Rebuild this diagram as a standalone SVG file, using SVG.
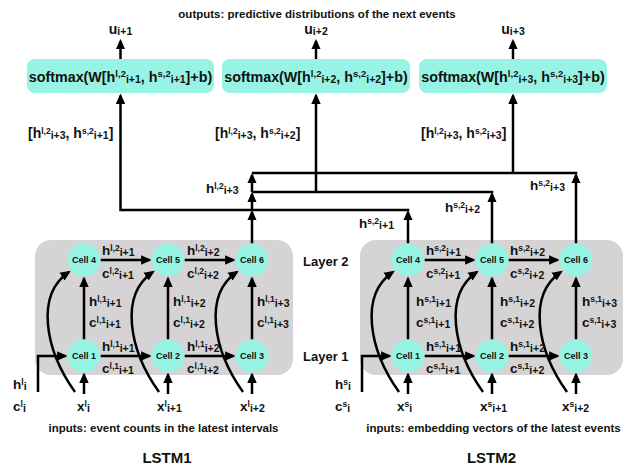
<svg xmlns="http://www.w3.org/2000/svg" width="639" height="473" viewBox="0 0 639 473">
<style>
.t{font-family:"Liberation Sans",Arial,Helvetica,sans-serif;font-weight:bold;fill:#111}
.m{font-size:13.5px}
.k{font-size:14px}
.bx{font-size:14.3px}
.p{font-size:8.5px}
.b{font-size:10.5px}
.p2{font-size:9.5px}
.b2{font-size:10.5px}
.cl{font-size:9px}
.ly{font-size:13px}
.cap{font-size:11.5px}
.big{font-size:15px}
.ln{fill:none;stroke:#000;stroke-width:2.5}
.cell{fill:#97F3E4}
.sm{fill:#97F3E4}
.panel{fill:#D5D3D4}
</style>
<defs>
<marker id="ah" viewBox="0 0 10 10" refX="8" refY="5" markerWidth="10.5" markerHeight="10.5" markerUnits="userSpaceOnUse" orient="auto"><path d="M0,0.5 L10,5 L0,9.5 z" fill="#000"/></marker>
</defs>

<text class="t cap" x="317" y="18" text-anchor="middle">outputs: predictive distributions of the next events</text>

<!-- panels -->
<g id="panel-lstm1"><rect class="panel" x="35" y="240" width="258" height="135" rx="16"/></g>
<g id="panel-lstm2"><rect class="panel" x="360" y="240" width="263" height="135" rx="16"/></g>

<!-- softmax boxes -->
<g id="softmax1"><rect class="sm" x="27" y="59" width="187" height="34" rx="8"/>
<text class="t bx" x="120.5" y="82" text-anchor="middle">softmax(W[h<tspan class="p2" dy="-5">l,2</tspan><tspan class="b2" dy="5.5">i+1</tspan><tspan dy="-0.5">, h</tspan><tspan class="p2" dy="-5">s,2</tspan><tspan class="b2" dy="5.5">i+1</tspan><tspan dy="-0.5">]+b)</tspan></text></g>
<g id="softmax2"><rect class="sm" x="222" y="59" width="188" height="34" rx="8"/>
<text class="t bx" x="316" y="82" text-anchor="middle">softmax(W[h<tspan class="p2" dy="-5">l,2</tspan><tspan class="b2" dy="5.5">i+2</tspan><tspan dy="-0.5">, h</tspan><tspan class="p2" dy="-5">s,2</tspan><tspan class="b2" dy="5.5">i+2</tspan><tspan dy="-0.5">]+b)</tspan></text></g>
<g id="softmax3"><rect class="sm" x="419" y="59" width="188" height="34" rx="8"/>
<text class="t bx" x="513" y="82" text-anchor="middle">softmax(W[h<tspan class="p2" dy="-5">l,2</tspan><tspan class="b2" dy="5.5">i+3</tspan><tspan dy="-0.5">, h</tspan><tspan class="p2" dy="-5">s,2</tspan><tspan class="b2" dy="5.5">i+3</tspan><tspan dy="-0.5">]+b)</tspan></text></g>

<!-- outputs -->
<text class="t k" x="120.5" y="34" text-anchor="middle">u<tspan class="b" dy="1">i+1</tspan></text>
<text class="t k" x="316" y="34" text-anchor="middle">u<tspan class="b" dy="1">i+2</tspan></text>
<text class="t k" x="513" y="34" text-anchor="middle">u<tspan class="b" dy="1">i+3</tspan></text>

<!-- connectors -->
<g id="connectors" class="ln">
<path d="M120.5,59 V41" marker-end="url(#ah)"/>
<path d="M316,59 V41" marker-end="url(#ah)"/>
<path d="M513,59 V41" marker-end="url(#ah)"/>
<path d="M409.25,210 H120.5 V95.5" marker-end="url(#ah)"/>
<path d="M408,243.5 V212" marker-end="url(#ah)"/>
<path d="M252,192 H493.25"/>
<path d="M316,192 V95.5" marker-end="url(#ah)"/>
<path d="M492,243.5 V194" marker-end="url(#ah)"/>
<path d="M252,173 H577.25"/>
<path d="M513,173 V95.5" marker-end="url(#ah)"/>
<path d="M576,243.5 V175" marker-end="url(#ah)"/>
<path d="M252,243.5 V212" marker-end="url(#ah)"/>
<path d="M252,210 V194" marker-end="url(#ah)"/>
<path d="M252,192 V175" marker-end="url(#ah)"/>
<!-- LSTM1 -->
<path d="M100.5,260 H149.5" marker-end="url(#ah)"/>
<path d="M184.5,260 H233.5" marker-end="url(#ah)"/>
<path d="M100.5,356 H149.5" marker-end="url(#ah)"/>
<path d="M184.5,356 H233.5" marker-end="url(#ah)"/>
<path d="M84,339.5 V278.5" marker-end="url(#ah)"/>
<path d="M168,339.5 V278.5" marker-end="url(#ah)"/>
<path d="M252,339.5 V278.5" marker-end="url(#ah)"/>
<path d="M84,394 V374.5" marker-end="url(#ah)"/>
<path d="M168,394 V374.5" marker-end="url(#ah)"/>
<path d="M252,394 V374.5" marker-end="url(#ah)"/>
<path d="M38,392 V356 H65.5" marker-end="url(#ah)"/>
<path d="M75,392 C45,350 35,295 69,272" marker-end="url(#ah)"/>
<path d="M159,392 C129,350 119,295 153,272" marker-end="url(#ah)"/>
<path d="M243,392 C213,350 203,295 237,272" marker-end="url(#ah)"/>
<!-- LSTM2 -->
<path d="M424.5,260 H473.5" marker-end="url(#ah)"/>
<path d="M508.5,260 H557.5" marker-end="url(#ah)"/>
<path d="M424.5,356 H473.5" marker-end="url(#ah)"/>
<path d="M508.5,356 H557.5" marker-end="url(#ah)"/>
<path d="M408,339.5 V278.5" marker-end="url(#ah)"/>
<path d="M492,339.5 V278.5" marker-end="url(#ah)"/>
<path d="M576,339.5 V278.5" marker-end="url(#ah)"/>
<path d="M408,394 V374.5" marker-end="url(#ah)"/>
<path d="M492,394 V374.5" marker-end="url(#ah)"/>
<path d="M576,394 V374.5" marker-end="url(#ah)"/>
<path d="M362,392 V356 H389.5" marker-end="url(#ah)"/>
<path d="M399,392 C369,350 359,295 393,272" marker-end="url(#ah)"/>
<path d="M483,392 C453,350 443,295 477,272" marker-end="url(#ah)"/>
<path d="M567,392 C537,350 527,295 561,272" marker-end="url(#ah)"/>
</g>

<!-- cells LSTM1 -->
<g id="l1-cell1"><circle class="cell" cx="84" cy="356" r="16.5"/><text class="t cl" x="84" y="359.2" text-anchor="middle">Cell 1</text></g>
<g id="l1-cell2"><circle class="cell" cx="168" cy="356" r="16.5"/><text class="t cl" x="168" y="359.2" text-anchor="middle">Cell 2</text></g>
<g id="l1-cell3"><circle class="cell" cx="252" cy="356" r="16.5"/><text class="t cl" x="252" y="359.2" text-anchor="middle">Cell 3</text></g>
<g id="l1-cell4"><circle class="cell" cx="84" cy="260" r="16.5"/><text class="t cl" x="84" y="263.2" text-anchor="middle">Cell 4</text></g>
<g id="l1-cell5"><circle class="cell" cx="168" cy="260" r="16.5"/><text class="t cl" x="168" y="263.2" text-anchor="middle">Cell 5</text></g>
<g id="l1-cell6"><circle class="cell" cx="252" cy="260" r="16.5"/><text class="t cl" x="252" y="263.2" text-anchor="middle">Cell 6</text></g>
<!-- cells LSTM2 -->
<g id="l2-cell1"><circle class="cell" cx="408" cy="356" r="16.5"/><text class="t cl" x="408" y="359.2" text-anchor="middle">Cell 1</text></g>
<g id="l2-cell2"><circle class="cell" cx="492" cy="356" r="16.5"/><text class="t cl" x="492" y="359.2" text-anchor="middle">Cell 2</text></g>
<g id="l2-cell3"><circle class="cell" cx="576" cy="356" r="16.5"/><text class="t cl" x="576" y="359.2" text-anchor="middle">Cell 3</text></g>
<g id="l2-cell4"><circle class="cell" cx="408" cy="260" r="16.5"/><text class="t cl" x="408" y="263.2" text-anchor="middle">Cell 4</text></g>
<g id="l2-cell5"><circle class="cell" cx="492" cy="260" r="16.5"/><text class="t cl" x="492" y="263.2" text-anchor="middle">Cell 5</text></g>
<g id="l2-cell6"><circle class="cell" cx="576" cy="260" r="16.5"/><text class="t cl" x="576" y="263.2" text-anchor="middle">Cell 6</text></g>

<!-- upper labels -->
<text class="t k" x="28" y="138">[h<tspan class="p" dy="-4">l,2</tspan><tspan class="b" dy="4.5">i+3</tspan><tspan dy="-0.5">, h</tspan><tspan class="p" dy="-4">s,2</tspan><tspan class="b" dy="4.5">i+1</tspan><tspan dy="-0.5">]</tspan></text>
<text class="t k" x="215" y="138">[h<tspan class="p" dy="-4">l,2</tspan><tspan class="b" dy="4.5">i+3</tspan><tspan dy="-0.5">, h</tspan><tspan class="p" dy="-4">s,2</tspan><tspan class="b" dy="4.5">i+2</tspan><tspan dy="-0.5">]</tspan></text>
<text class="t k" x="421" y="138">[h<tspan class="p" dy="-4">l,2</tspan><tspan class="b" dy="4.5">i+3</tspan><tspan dy="-0.5">, h</tspan><tspan class="p" dy="-4">s,2</tspan><tspan class="b" dy="4.5">i+3</tspan><tspan dy="-0.5">]</tspan></text>
<text class="t m" x="206" y="193">h<tspan class="p" dy="-4">l,2</tspan><tspan class="b" dy="4.5">i+3</tspan></text>
<text class="t m" x="359" y="228">h<tspan class="p" dy="-4">s,2</tspan><tspan class="b" dy="4.5">i+1</tspan></text>
<text class="t m" x="445" y="212">h<tspan class="p" dy="-4">s,2</tspan><tspan class="b" dy="4.5">i+2</tspan></text>
<text class="t m" x="530" y="190">h<tspan class="p" dy="-4">s,2</tspan><tspan class="b" dy="4.5">i+3</tspan></text>

<!-- LSTM1 labels -->
<text class="t m" x="102" y="255">h<tspan class="p" dy="-4">l,2</tspan><tspan class="b" dy="4.5">i+1</tspan></text>
<text class="t m" x="102" y="278">c<tspan class="p" dy="-4">l,2</tspan><tspan class="b" dy="4.5">i+1</tspan></text>
<text class="t m" x="187" y="255">h<tspan class="p" dy="-4">l,2</tspan><tspan class="b" dy="4.5">i+2</tspan></text>
<text class="t m" x="187" y="278">c<tspan class="p" dy="-4">l,2</tspan><tspan class="b" dy="4.5">i+2</tspan></text>
<text class="t m" x="89" y="306">h<tspan class="p" dy="-4">l,1</tspan><tspan class="b" dy="4.5">i+1</tspan></text>
<text class="t m" x="89" y="327">c<tspan class="p" dy="-4">l,1</tspan><tspan class="b" dy="4.5">i+1</tspan></text>
<text class="t m" x="173" y="306">h<tspan class="p" dy="-4">l,1</tspan><tspan class="b" dy="4.5">i+2</tspan></text>
<text class="t m" x="173" y="327">c<tspan class="p" dy="-4">l,1</tspan><tspan class="b" dy="4.5">i+2</tspan></text>
<text class="t m" x="257" y="306">h<tspan class="p" dy="-4">l,1</tspan><tspan class="b" dy="4.5">i+3</tspan></text>
<text class="t m" x="257" y="327">c<tspan class="p" dy="-4">l,1</tspan><tspan class="b" dy="4.5">i+3</tspan></text>
<text class="t m" x="102" y="351">h<tspan class="p" dy="-4">l,1</tspan><tspan class="b" dy="4.5">i+1</tspan></text>
<text class="t m" x="102" y="373">c<tspan class="p" dy="-4">l,1</tspan><tspan class="b" dy="4.5">i+1</tspan></text>
<text class="t m" x="187" y="351">h<tspan class="p" dy="-4">l,1</tspan><tspan class="b" dy="4.5">i+2</tspan></text>
<text class="t m" x="187" y="373">c<tspan class="p" dy="-4">l,1</tspan><tspan class="b" dy="4.5">i+2</tspan></text>
<text class="t m" x="13" y="389">h<tspan class="p" dy="-4">l</tspan><tspan class="b" dy="4.5">i</tspan></text>
<text class="t m" x="13" y="411">c<tspan class="p" dy="-4">l</tspan><tspan class="b" dy="4.5">i</tspan></text>
<text class="t m" x="77" y="411">x<tspan class="p" dy="-4">l</tspan><tspan class="b" dy="4.5">i</tspan></text>
<text class="t m" x="157" y="411">x<tspan class="p" dy="-4">l</tspan><tspan class="b" dy="4.5">i+1</tspan></text>
<text class="t m" x="240" y="411">x<tspan class="p" dy="-4">l</tspan><tspan class="b" dy="4.5">i+2</tspan></text>

<!-- LSTM2 labels -->
<text class="t m" x="426" y="255">h<tspan class="p" dy="-4">s,2</tspan><tspan class="b" dy="4.5">i+1</tspan></text>
<text class="t m" x="426" y="278">c<tspan class="p" dy="-4">s,2</tspan><tspan class="b" dy="4.5">i+1</tspan></text>
<text class="t m" x="510" y="255">h<tspan class="p" dy="-4">s,2</tspan><tspan class="b" dy="4.5">i+2</tspan></text>
<text class="t m" x="510" y="278">c<tspan class="p" dy="-4">s,2</tspan><tspan class="b" dy="4.5">i+2</tspan></text>
<text class="t m" x="416" y="306">h<tspan class="p" dy="-4">s,1</tspan><tspan class="b" dy="4.5">i+1</tspan></text>
<text class="t m" x="416" y="327">c<tspan class="p" dy="-4">s,1</tspan><tspan class="b" dy="4.5">i+1</tspan></text>
<text class="t m" x="500" y="306">h<tspan class="p" dy="-4">s,1</tspan><tspan class="b" dy="4.5">i+2</tspan></text>
<text class="t m" x="500" y="327">c<tspan class="p" dy="-4">s,1</tspan><tspan class="b" dy="4.5">i+2</tspan></text>
<text class="t m" x="582" y="306">h<tspan class="p" dy="-4">s,1</tspan><tspan class="b" dy="4.5">i+3</tspan></text>
<text class="t m" x="582" y="327">c<tspan class="p" dy="-4">s,1</tspan><tspan class="b" dy="4.5">i+3</tspan></text>
<text class="t m" x="426" y="351">h<tspan class="p" dy="-4">s,1</tspan><tspan class="b" dy="4.5">i+1</tspan></text>
<text class="t m" x="426" y="373">c<tspan class="p" dy="-4">s,1</tspan><tspan class="b" dy="4.5">i+1</tspan></text>
<text class="t m" x="510" y="351">h<tspan class="p" dy="-4">s,1</tspan><tspan class="b" dy="4.5">i+2</tspan></text>
<text class="t m" x="510" y="373">c<tspan class="p" dy="-4">s,1</tspan><tspan class="b" dy="4.5">i+2</tspan></text>
<text class="t m" x="335" y="389">h<tspan class="p" dy="-4">s</tspan><tspan class="b" dy="4.5">i</tspan></text>
<text class="t m" x="335" y="411">c<tspan class="p" dy="-4">s</tspan><tspan class="b" dy="4.5">i</tspan></text>
<text class="t m" x="397" y="411">x<tspan class="p" dy="-4">s</tspan><tspan class="b" dy="4.5">i</tspan></text>
<text class="t m" x="480" y="411">x<tspan class="p" dy="-4">s</tspan><tspan class="b" dy="4.5">i+1</tspan></text>
<text class="t m" x="562" y="411">x<tspan class="p" dy="-4">s</tspan><tspan class="b" dy="4.5">i+2</tspan></text>

<text class="t ly" x="303" y="266">Layer 2</text>
<text class="t ly" x="303" y="361">Layer 1</text>

<text class="t cap" x="163.5" y="432" text-anchor="middle">inputs: event counts in the latest intervals</text>
<text class="t cap" x="493.5" y="432" text-anchor="middle">inputs: embedding vectors of the latest events</text>
<text class="t big" x="167" y="463" text-anchor="middle">LSTM1</text>
<text class="t big" x="491.5" y="463" text-anchor="middle">LSTM2</text>
</svg>
